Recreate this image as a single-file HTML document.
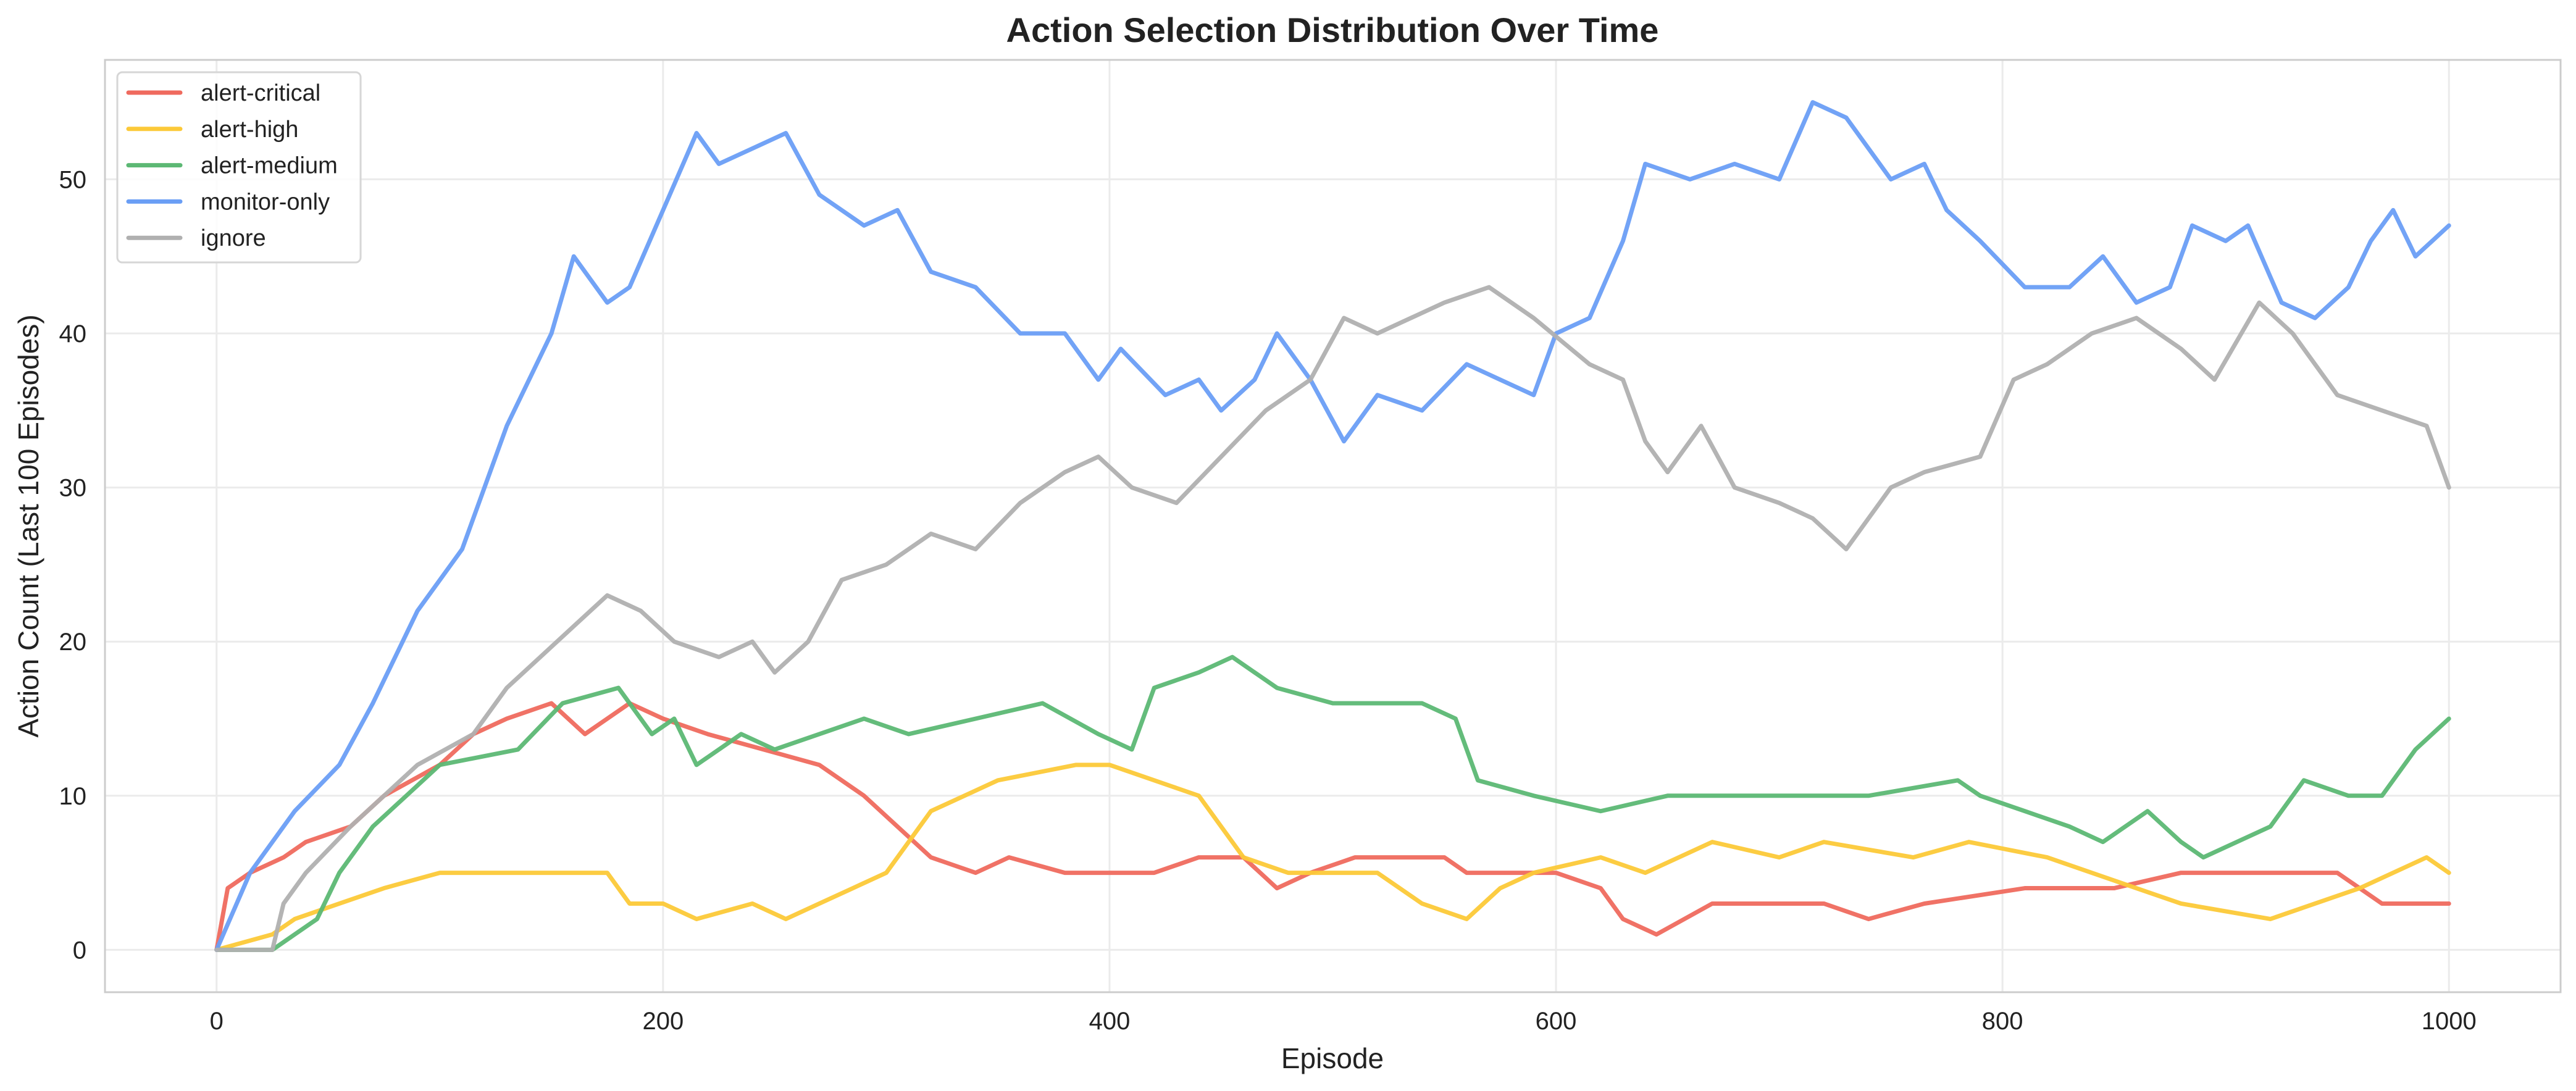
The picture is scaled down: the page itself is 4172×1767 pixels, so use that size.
<!DOCTYPE html>
<html><head><meta charset="utf-8"><style>
html,body{margin:0;padding:0;background:#fff;}
svg{display:block;font-family:"Liberation Sans",Arial,sans-serif;}
</style></head><body>
<svg id="chart" width="4172" height="1767" viewBox="0 0 4172 1767" xmlns="http://www.w3.org/2000/svg">
<rect width="4172" height="1767" fill="#fff"/>
<g id="grid"></g>
<g id="series"></g>
<rect x="170" y="97" width="3977" height="1510" fill="none" stroke="#cccccc" stroke-width="3"/>
<g id="ticks"></g>
<text x="2158" y="68" text-anchor="middle" font-size="56" font-weight="bold" fill="#222">Action Selection Distribution Over Time</text>
<text x="2158" y="1730" text-anchor="middle" font-size="46" fill="#222">Episode</text>
<text x="62" y="852" text-anchor="middle" font-size="46" fill="#222" transform="rotate(-90 62 852)">Action Count (Last 100 Episodes)</text>
<g id="legend"></g>
</svg>
<script>
const xTicks=[0,200,400,600,800,1000];
const yTicks=[0,10,20,30,40,50];
const seriesNames=["alert-critical","alert-high","alert-medium","monitor-only","ignore"];
const seriesColors=["#ef6a5e","#fcc938","#5cb874","#6a9ef5","#b0b0b0"];
const criticalEp=[0,5,15,30,40,60,75,100,115,130,150,165,175,185,200,220,245,270,290,305,320,340,355,380,420,440,460,475,490,510,550,560,600,620,630,645,670,720,740,765,810,850,880,950,970,1000];
const criticalVal=[0,4,5,6,7,8,10,12,14,15,16,14,15,16,15,14,13,12,10,8,6,5,6,5,5,6,6,4,5,6,6,5,5,4,2,1,3,3,2,3,4,4,5,5,3,3];
const highEp=[0,25,35,55,75,100,175,185,200,215,240,255,270,285,300,310,320,335,350,385,400,420,440,460,480,520,540,560,575,590,620,640,670,700,720,760,785,820,860,880,920,940,960,975,990,1000];
const highVal=[0,1,2,3,4,5,5,3,3,2,3,2,3,4,5,7,9,10,11,12,12,11,10,6,5,5,3,2,4,5,6,5,7,6,7,6,7,6,4,3,2,3,4,5,6,5];
const mediumEp=[0,25,35,45,55,70,85,100,135,155,180,195,205,215,235,250,270,290,310,340,370,395,410,420,440,455,475,500,540,555,565,590,620,650,700,740,780,790,810,830,845,865,880,890,920,935,955,970,985,1000];
const mediumVal=[0,0,1,2,5,8,10,12,13,16,17,14,15,12,14,13,14,15,14,15,16,14,13,17,18,19,17,16,16,15,11,10,9,10,10,10,11,10,9,8,7,9,7,6,8,11,10,10,13,15];
const monitorEp=[0,15,35,55,70,90,110,130,150,160,175,185,200,215,225,240,255,270,290,305,320,340,360,380,395,405,425,440,450,465,475,490,505,520,540,560,575,590,600,615,630,640,660,680,700,715,730,750,765,775,790,810,830,845,860,875,885,900,910,925,940,955,965,975,985,1000];
const monitorVal=[0,5,9,12,16,22,26,34,40,45,42,43,48,53,51,52,53,49,47,48,44,43,40,40,37,39,36,37,35,37,40,37,33,36,35,38,37,36,40,41,46,51,50,51,50,55,54,50,51,48,46,43,43,45,42,43,47,46,47,42,41,43,46,48,45,47];
const ignoreEp=[0,25,30,40,60,75,90,115,130,145,160,175,190,205,225,240,250,265,280,300,320,340,360,380,395,410,430,450,470,490,505,520,550,570,590,615,630,640,650,665,680,700,715,730,750,765,790,805,820,840,860,880,895,915,930,950,970,990,1000];
const ignoreVal=[0,0,3,5,8,10,12,14,17,19,21,23,22,20,19,20,18,20,24,25,27,26,29,31,32,30,29,32,35,37,41,40,42,43,41,38,37,33,31,34,30,29,28,26,30,31,32,37,38,40,41,39,37,42,40,36,35,34,30];
const allEp=[criticalEp,highEp,mediumEp,monitorEp,ignoreEp];
const allVal=[criticalVal,highVal,mediumVal,monitorVal,ignoreVal];

const L=170,R=4147,T=97,B=1607,xMin=-50,xMax=1050,yMin=-2.75,yMax=57.75;
const xs=v=>L+(v-xMin)/(xMax-xMin)*(R-L);
const ys=v=>B-(v-yMin)/(yMax-yMin)*(B-T);
const NS="http://www.w3.org/2000/svg";
function mk(tag,parent){const e=document.createElementNS(NS,tag);parent.appendChild(e);return e;}
const grid=document.getElementById('grid'),ticks=document.getElementById('ticks');
xTicks.forEach(t=>{
  const g=mk('line',grid);g.setAttribute('x1',xs(t));g.setAttribute('x2',xs(t));g.setAttribute('y1',T);g.setAttribute('y2',B);g.setAttribute('stroke','#ebebeb');g.setAttribute('stroke-width','3');
  
  
  const tx=mk('text',ticks);tx.setAttribute('x',xs(t));tx.setAttribute('y',1667);tx.setAttribute('text-anchor','middle');tx.setAttribute('font-size','40');tx.setAttribute('fill','#222');tx.textContent=t;
  
  
});
yTicks.forEach(t=>{
  const g=mk('line',grid);g.setAttribute('x1',L);g.setAttribute('x2',R);g.setAttribute('y1',ys(t));g.setAttribute('y2',ys(t));g.setAttribute('stroke','#ebebeb');g.setAttribute('stroke-width','3');
  
  
  const tx=mk('text',ticks);tx.setAttribute('x',140);tx.setAttribute('y',ys(t)+14);tx.setAttribute('text-anchor','end');tx.setAttribute('font-size','40');tx.setAttribute('fill','#222');tx.textContent=t;
  
  
});
const sg=document.getElementById('series');
allEp.forEach((eps,i)=>{
  const vals=allVal[i];
  const pts=eps.map((e,k)=>xs(e)+','+ys(vals[k])).join(' ');
  const p=mk('polyline',sg);p.setAttribute('points',pts);p.setAttribute('fill','none');p.setAttribute('stroke',seriesColors[i]);p.setAttribute('stroke-width','7');p.setAttribute('stroke-linejoin','round');p.setAttribute('stroke-linecap','round');p.setAttribute('opacity','0.95');
  
  
});
const lg=document.getElementById('legend');
const box=mk('rect',lg);box.setAttribute('x',190);box.setAttribute('y',117);box.setAttribute('width',394);box.setAttribute('height',308);box.setAttribute('rx',8);box.setAttribute('fill','#fff');box.setAttribute('fill-opacity','0.85');box.setAttribute('stroke','#d6d6d6');box.setAttribute('stroke-width','3');


seriesNames.forEach((n,i)=>{
  const y=150+i*58.8;
  const ln=mk('line',lg);ln.setAttribute('x1',208);ln.setAttribute('x2',292);ln.setAttribute('y1',y);ln.setAttribute('y2',y);ln.setAttribute('stroke',seriesColors[i]);ln.setAttribute('stroke-width','7');ln.setAttribute('stroke-linecap','round');
  
  
  const tx=mk('text',lg);tx.setAttribute('x',325);tx.setAttribute('y',y+13);tx.setAttribute('font-size','38');tx.setAttribute('fill','#222');tx.textContent=n;
  
  
});
</script>
</body></html>
